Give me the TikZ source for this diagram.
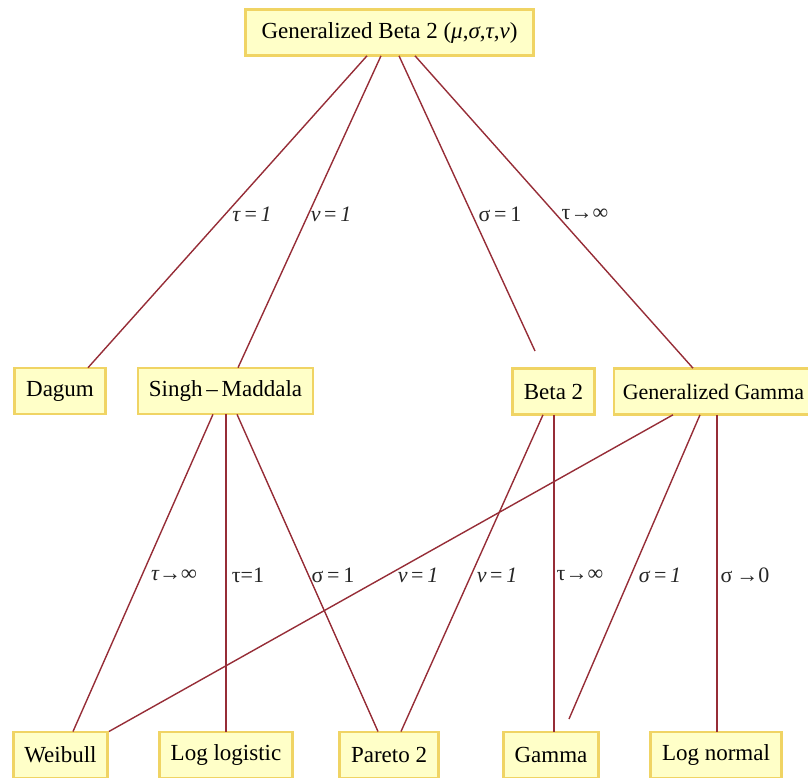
\documentclass[tikz,border=0pt]{standalone}
\usepackage{fontspec}
\setmainfont{Liberation Serif}
\begin{document}
\begin{tikzpicture}[x=1pt,y=-1pt,
  box/.style={draw=boxline, fill=boxfill, line width=2.6pt, minimum height=46pt, inner xsep=11pt, inner ysep=0pt, font=\fontsize{23}{27}\selectfont, text=black},
  conn/.style={draw=connline, line width=1.4pt},
  lab/.style={font=\fontsize{22}{26}\selectfont, inner sep=0pt, text=black!85}]
\definecolor{boxfill}{RGB}{255,255,200}
\definecolor{boxline}{RGB}{240,212,100}
\definecolor{connline}{RGB}{150,45,55}
\useasboundingbox (0,0) rectangle (808,778);
% nodes
\node[box, minimum width=288pt] (gb2) at (389.5,32.5) {Generalized Beta 2 (\textit{μ},\textit{σ},\textit{τ},\textit{ν})};
\node[box, minimum width=91pt] (dagum) at (60,391) {Dagum};
\node[box, minimum width=170pt] (sm) at (225.5,391) {Singh\,–\,Maddala};
\node[box, minimum width=82pt] (beta) at (553.5,391.5) {Beta 2};
\node[box, anchor=west, inner xsep=9pt, font=\fontsize{22}{26}\selectfont] (gg) at (612.5,391.5) {Generalized Gamma};
\node[box, minimum width=92pt, anchor=north] (weib) at (60.5,730.5) {Weibull};
\node[box, minimum width=127pt, anchor=north] (loglog) at (226,730.5) {Log logistic};
\node[box, minimum width=99pt, anchor=north] (par) at (389,730.5) {Pareto 2};
\node[box, minimum width=91pt, anchor=north] (gam) at (551,730.5) {Gamma};
\node[box, minimum width=131pt, anchor=north] (lnorm) at (716,730.5) {Log normal};
\coordinate (betaend) at (535,351);
\coordinate (gamend) at (569,719);
% top connectors
\draw[conn] ([xshift=-22.5pt,yshift=1pt]gb2.south) -- ([xshift=28pt,yshift=-1pt]dagum.north);
\draw[conn] ([xshift=-8.5pt,yshift=1pt]gb2.south) -- ([xshift=12.5pt,yshift=-1pt]sm.north);
\draw[conn] ([xshift=9.5pt,yshift=1pt]gb2.south) -- (betaend);
\draw[conn] ([xshift=25.5pt,yshift=1pt]gb2.south) -- ([xshift=80.5pt,yshift=-1pt]gg.north west);
% lower connectors
\draw[conn] ([xshift=-12.5pt,yshift=1pt]sm.south) -- ([xshift=12.5pt,yshift=-1pt]weib.north);
\draw[conn] ([xshift=0.5pt,yshift=1pt]sm.south) -- ([xshift=0pt,yshift=-1pt]loglog.north);
\draw[conn] ([xshift=11.5pt,yshift=1pt]sm.south) -- ([xshift=-11pt,yshift=-1pt]par.north);
\draw[conn] ([xshift=60.5pt,yshift=1pt]gg.south west) -- ([xshift=0pt,yshift=-1pt]weib.north east);
\draw[conn] ([xshift=-10.5pt,yshift=1pt]beta.south) -- ([xshift=12pt,yshift=-1pt]par.north);
\draw[conn] ([xshift=0.5pt,yshift=1pt]beta.south) -- ([xshift=3pt,yshift=-1pt]gam.north);
\draw[conn] ([xshift=87.5pt,yshift=1pt]gg.south west) -- (gamend);
\draw[conn] ([xshift=104.5pt,yshift=1pt]gg.south west) -- ([xshift=1pt,yshift=-1pt]lnorm.north);
% labels
\node[lab] (l1) at (252,214) {\textit{τ}\,=\,\textit{1}};
\node[lab] (l2) at (331,214) {\textit{ν}\,=\,\textit{1}};
\node[lab] (l3) at (500,214) {σ\,=\,1};
\node[lab] (l4) at (585,214) {τ→∞};
\node[lab] (l5) at (174,575) {\textit{τ→∞}};
\node[lab] (l6) at (248,575) {τ=1};
\node[lab] (l7) at (333,575) {σ\,=\,1};
\node[lab] (l8) at (418,575) {\textit{ν}\,=\,\textit{1}};
\node[lab] (l9) at (497,575) {\textit{ν}\,=\,\textit{1}};
\node[lab] (l10) at (580,575) {τ→∞};
\node[lab] (l11) at (660,575) {\textit{σ}\,=\,\textit{1}};
\node[lab] (l12) at (745,575) {σ\,→0};
\end{tikzpicture}
\end{document}
